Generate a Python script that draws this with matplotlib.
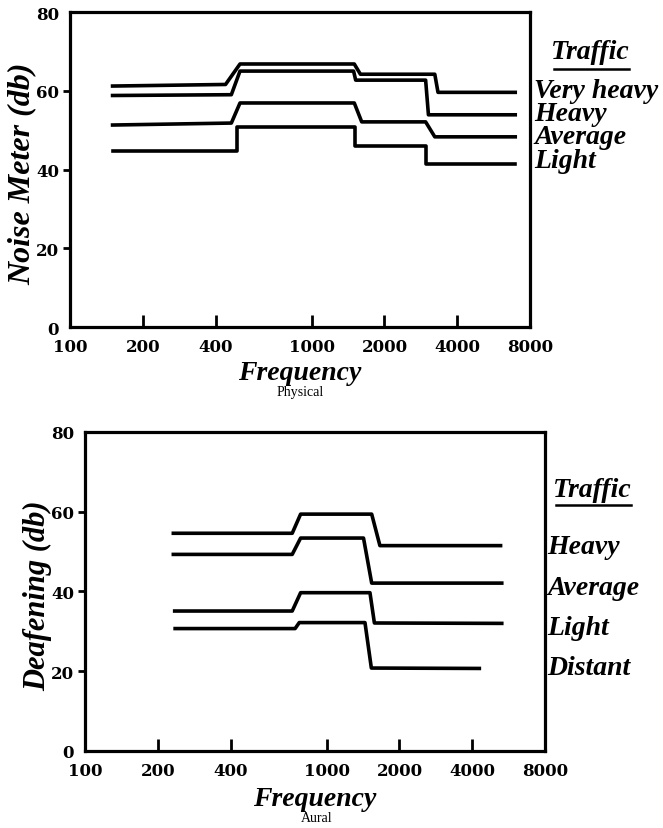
import numpy as np
import matplotlib
matplotlib.use("Agg")
import matplotlib.pyplot as plt
import matplotlib.ticker as ticker

# breakpoints (frequency in Hz, level in db)
# top panel: "Physical" (noise meter)
phys_labels = ["Very heavy", "Heavy", "Average", "Light"]
vheavy_f = [150, 440, 505, 1500, 1590, 3230, 3330, 6950]
vheavy_db = [61.2, 61.6, 66.8, 66.8, 64.2, 64.2, 59.6, 59.6]
heavy_f = [150, 465, 505, 1490, 1520, 2960, 3040, 6950]
heavy_db = [58.8, 59.0, 65.0, 65.0, 62.7, 62.7, 53.9, 53.9]
avg_f = [150, 465, 505, 1500, 1610, 2960, 3230, 6950]
avg_db = [51.3, 51.8, 56.9, 56.9, 52.1, 52.1, 48.3, 48.3]
light_f = [150, 490, 490, 1505, 1505, 2980, 2980, 6950]
light_db = [44.8, 44.8, 50.8, 50.8, 46.0, 46.0, 41.4, 41.4]

# bottom panel: "Aural" (deafening)
aural_labels = ["Heavy", "Average", "Light", "Distant"]
a_heavy_f = [232, 720, 780, 1535, 1660, 5240]
a_heavy_db = [54.6, 54.6, 59.4, 59.4, 51.5, 51.5]
a_avg_f = [232, 720, 780, 1420, 1535, 5300]
a_avg_db = [49.3, 49.3, 53.4, 53.4, 42.1, 42.1]
a_light_f = [235, 720, 780, 1510, 1575, 5300]
a_light_db = [35.1, 35.1, 39.7, 39.7, 32.1, 32.0]
a_dist_f = [236, 740, 770, 1440, 1530, 4280]
a_dist_db = [30.7, 30.7, 32.2, 32.2, 20.8, 20.7]

freq_ticks = [100, 200, 400, 1000, 2000, 4000, 8000]
db_ticks = [0, 20, 40, 60, 80]

SERIF = "Liberation Serif"
TICKFONT = "DejaVu Serif"
fig = plt.figure(figsize=(6.63, 8.29), dpi=100)


def style_axes(ax):
    ax.set_xscale("log")
    ax.set_xlim(100, 8000)
    ax.set_ylim(0, 80)
    ax.xaxis.set_major_locator(ticker.FixedLocator(freq_ticks))
    ax.xaxis.set_minor_locator(ticker.NullLocator())
    ax.xaxis.set_major_formatter(ticker.FixedFormatter([str(t) for t in freq_ticks]))
    ax.set_yticks(db_ticks)
    for s in ax.spines.values():
        s.set_linewidth(2.3)
    ax.tick_params(axis="x", direction="in", length=9, width=2, pad=8)
    ax.tick_params(axis="y", direction="out", length=5, width=2, pad=3)
    # no tick marks at the corners (100 / 8000, 0 / 80)
    xt = ax.xaxis.get_major_ticks()
    xt[0].tick1line.set_visible(False)
    xt[-1].tick1line.set_visible(False)
    yt = ax.yaxis.get_major_ticks()
    yt[0].tick1line.set_visible(False)
    yt[-1].tick1line.set_visible(False)
    for lab in ax.get_xticklabels() + ax.get_yticklabels():
        lab.set_fontfamily(TICKFONT)
        lab.set_fontweight("bold")
        lab.set_fontsize(12)


label_kw = dict(fontfamily=SERIF, fontstyle="italic", fontweight="bold")

# ---- top panel ----
ax1 = fig.add_axes([0.1056, 0.6043, 0.6938, 0.380])
for f, d in [(vheavy_f, vheavy_db), (heavy_f, heavy_db), (avg_f, avg_db), (light_f, light_db)]:
    ax1.plot(f, d, color="black", lw=2.6, solid_joinstyle="round")
style_axes(ax1)
ax1.set_ylabel("Noise Meter (db)", fontsize=23, va="center", **label_kw)
ax1.yaxis.set_label_coords(-0.104, 0.49)
ax1.set_xlabel("Frequency", fontsize=20, va="center", **label_kw)
ax1.xaxis.set_label_coords(0.5, -0.145)
fig.text(0.4525, 0.526, "Physical", ha="center", va="center",
         fontfamily=SERIF, fontsize=10)

# legend-like labels on the right
fig.text(0.89, 0.937, "Traffic", ha="center", va="center", fontsize=20, **label_kw)
fig.add_artist(plt.Line2D([0.835, 0.948], [0.916, 0.916], color="black", lw=1.8))
for i, lab in enumerate(phys_labels):
    fig.text(0.806, 0.890 - i * 0.0282, lab, ha="left", va="center",
             fontsize=20, **label_kw)

# ---- bottom panel ----
ax2 = fig.add_axes([0.1282, 0.0929, 0.6938, 0.3848])
for f, d in [(a_heavy_f, a_heavy_db), (a_avg_f, a_avg_db), (a_light_f, a_light_db), (a_dist_f, a_dist_db)]:
    ax2.plot(f, d, color="black", lw=2.6, solid_joinstyle="round")
style_axes(ax2)
ax2.set_ylabel("Deafening (db)", fontsize=22, va="center", **label_kw)
ax2.yaxis.set_label_coords(-0.102, 0.49)
ax2.set_xlabel("Frequency", fontsize=20, va="center", **label_kw)
ax2.xaxis.set_label_coords(0.5, -0.148)
fig.text(0.4775, 0.013, "Aural", ha="center", va="center",
         fontfamily=SERIF, fontsize=10)

fig.text(0.894, 0.408, "Traffic", ha="center", va="center", fontsize=20, **label_kw)
fig.add_artist(plt.Line2D([0.838, 0.952], [0.390, 0.390], color="black", lw=1.8))
for i, lab in enumerate(aural_labels):
    fig.text(0.826, 0.339 - i * 0.0485, lab, ha="left", va="center",
             fontsize=20, **label_kw)

plt.savefig("out.png", dpi=100)
